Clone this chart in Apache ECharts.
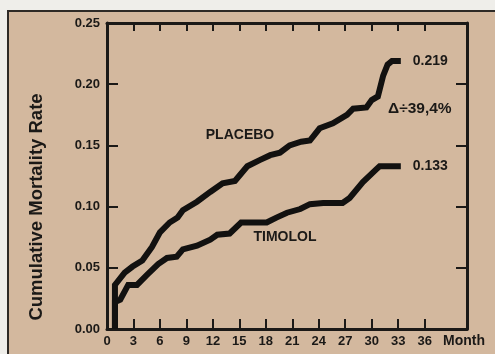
<!DOCTYPE html>
<html>
<head>
<meta charset="utf-8">
<script src="https://cdn.jsdelivr.net/npm/echarts@6/dist/echarts.min.js"></script>
<style>
  html, body { margin: 0; padding: 0; background: #efeeea; }
  #chart { width: 495px; height: 354px; }
</style>
</head>
<body>
<div id="chart"></div>
<script>
// Cumulative mortality over follow-up time (months)
const placebo = [
  [0.9, 0], [0.9, 0.036], [2.0, 0.046], [2.9, 0.051], [4.0, 0.056], [5.1, 0.067],
  [6.0, 0.079], [7.1, 0.087], [8.0, 0.091], [8.6, 0.097], [10.2, 0.104], [11.7, 0.112],
  [13.1, 0.119], [14.5, 0.121], [15.9, 0.133], [17.3, 0.138], [18.5, 0.142], [19.6, 0.144],
  [20.7, 0.150], [22.0, 0.153], [23.0, 0.154], [24.1, 0.164], [25.6, 0.168], [27.2, 0.175],
  [27.9, 0.180], [29.4, 0.181], [30.0, 0.187], [30.7, 0.190], [31.3, 0.207], [31.8, 0.216],
  [32.3, 0.219], [33.3, 0.219]
];
const timolol = [
  [0.9, 0], [0.9, 0.022], [1.5, 0.024], [2.4, 0.036], [3.4, 0.036], [4.5, 0.044],
  [5.8, 0.053], [6.8, 0.058], [7.9, 0.059], [8.6, 0.065], [10.2, 0.068], [11.7, 0.073],
  [12.5, 0.077], [13.9, 0.078], [15.2, 0.087], [18.1, 0.087], [19.2, 0.091], [20.4, 0.095],
  [21.9, 0.098], [23.0, 0.102], [24.5, 0.103], [26.7, 0.103], [27.5, 0.107], [29.0, 0.120],
  [30.6, 0.131], [30.9, 0.133], [33.3, 0.133]
];
const monthLabels = [0, 3, 6, 9, 12, 15, 18, 21, 24, 27, 30, 33, 36];
const monthTicks = [3, 6, 9, 12, 15, 18, 21, 24, 27, 30, 33, 36];
const rateLabels = [0, 0.05, 0.10, 0.15, 0.20, 0.25];
const rateTicks = [0.05, 0.10, 0.15, 0.20];
const seriesNames = ['PLACEBO', 'TIMOLOL'];
const reductionText = '\u0394\u00f739,4%';

const ink = '#1b1917';
const font = '"Liberation Sans", Arial, sans-serif';

const axisLine = { show: true, onZero: false, lineStyle: { color: ink, width: 3 } };
const tickStyle = { color: ink, width: 2 };

const chart = echarts.init(document.getElementById('chart'), null, { renderer: 'canvas' });
chart.setOption({
  backgroundColor: 'transparent',
  animation: false,
  grid: { left: 107, right: 28, top: 23, bottom: 25 },
  xAxis: [
    {
      type: 'value', min: 0, max: 40.8, position: 'bottom',
      axisLine: axisLine,
      splitLine: { show: false },
      axisTick: { show: true, inside: true, length: 10, customValues: monthTicks, lineStyle: tickStyle },
      axisLabel: { show: true, customValues: monthLabels, margin: 6,
                   color: ink, fontFamily: font, fontSize: 13, fontWeight: 'bold' }
    },
    {
      type: 'value', min: 0, max: 40.8, position: 'top',
      axisLine: axisLine,
      splitLine: { show: false },
      axisTick: { show: true, inside: true, length: 8, customValues: monthTicks, lineStyle: tickStyle },
      axisLabel: { show: false }
    }
  ],
  yAxis: [
    {
      type: 'value', min: 0, max: 0.25, position: 'left',
      axisLine: axisLine,
      splitLine: { show: false },
      axisTick: { show: true, inside: true, length: 11, customValues: rateTicks, lineStyle: tickStyle },
      axisLabel: { show: true, customValues: rateLabels, margin: 7,
                   formatter: v => v.toFixed(2),
                   color: ink, fontFamily: font, fontSize: 13, fontWeight: 'bold' }
    },
    {
      type: 'value', min: 0, max: 0.25, position: 'right',
      axisLine: axisLine,
      splitLine: { show: false },
      axisTick: { show: true, inside: true, length: 11, customValues: rateTicks, lineStyle: tickStyle },
      axisLabel: { show: false }
    }
  ],
  series: [placebo, timolol].map((data, i) => ({
    name: seriesNames[i],
    type: 'line',
    data: data,
    symbol: 'none',
    lineStyle: { color: '#121110', width: 6, join: 'miter' },
    endLabel: {
      show: true, distance: 12,
      formatter: p => p.value[1].toFixed(3),
      color: ink, fontFamily: font, fontSize: 14, fontWeight: 'bold'
    },
    z: 3
  })),
  graphic: [
    {
      type: 'rect', z: -100, silent: true,
      shape: { x: 8, y: 11, width: 500, height: 360 },
      style: { fill: '#d3b89e', stroke: '#2e2a26', lineWidth: 2 }
    },
    {
      type: 'text', x: 37, y: 207, rotation: Math.PI / 2,
      style: { text: 'Cumulative Mortality Rate', fill: ink, font: 'bold 18.5px ' + font,
               textAlign: 'center', textVerticalAlign: 'middle' }
    },
    {
      type: 'text', x: 240, y: 135,
      style: { text: seriesNames[0], fill: ink, font: 'bold 14px ' + font,
               textAlign: 'center', textVerticalAlign: 'middle' }
    },
    {
      type: 'text', x: 285, y: 237,
      style: { text: seriesNames[1], fill: ink, font: 'bold 14px ' + font,
               textAlign: 'center', textVerticalAlign: 'middle' }
    },
    {
      type: 'text', x: 388, y: 109,
      style: { text: reductionText, fill: ink, font: 'bold 15.5px ' + font,
               textAlign: 'left', textVerticalAlign: 'middle' }
    },
    {
      type: 'text', x: 443, y: 341,
      style: { text: 'Month', fill: ink, font: 'bold 14px ' + font,
               textAlign: 'left', textVerticalAlign: 'middle' }
    }
  ]
});
</script>
</body>
</html>
